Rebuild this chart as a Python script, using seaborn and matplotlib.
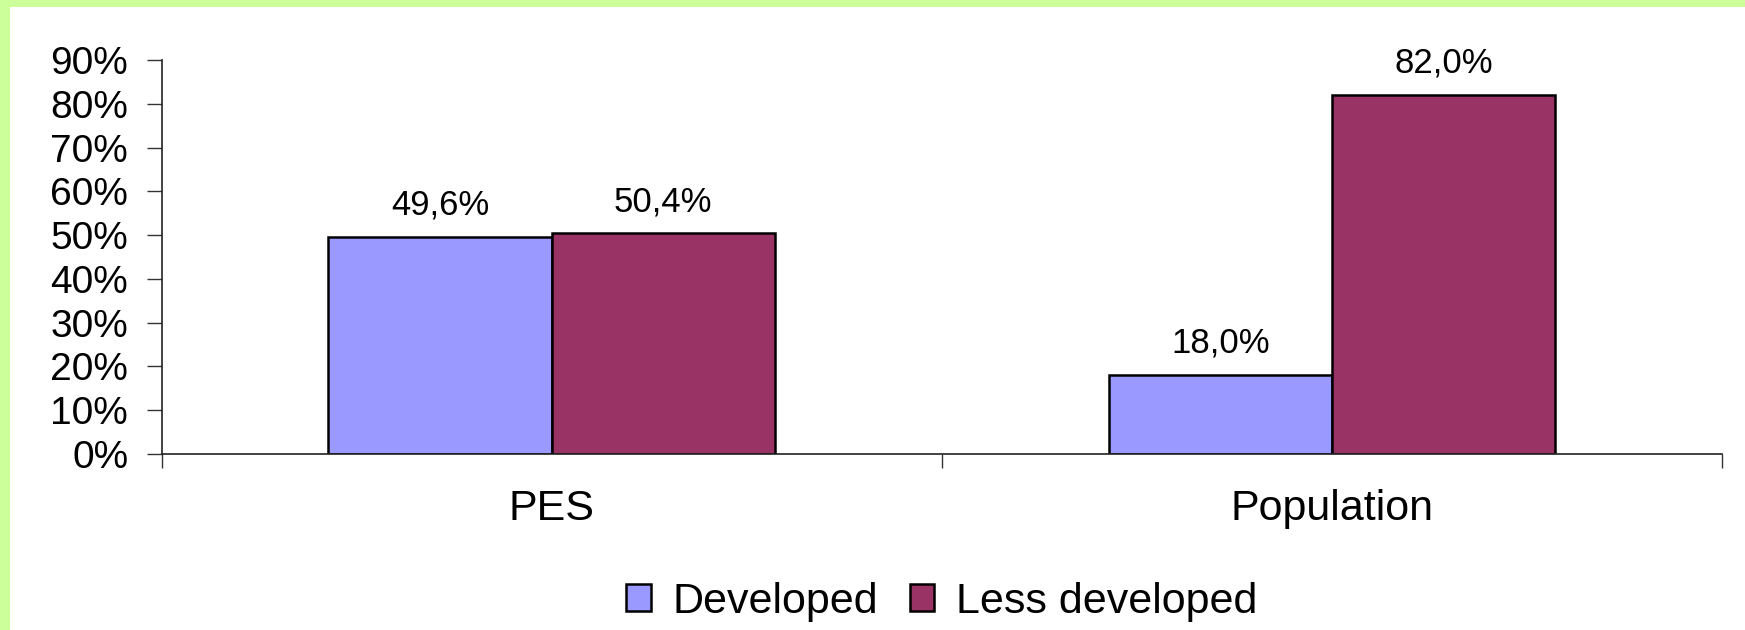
import pandas as pd
import numpy as np
import seaborn as sns
import matplotlib.pyplot as plt
from matplotlib.patches import Rectangle
from matplotlib.ticker import PercentFormatter, FixedLocator

# data
categories = ['PES', 'Population']
groups = ['Developed', 'Less developed']
developed = [0.496, 0.180]
less_developed = [0.504, 0.820]
colors = ['#9999FF', '#993366']

df = pd.DataFrame({
    'category': categories * 2,
    'group': [groups[0]] * 2 + [groups[1]] * 2,
    'share': developed + less_developed,
})

sns.set_theme(style='ticks')
plt.rcParams['font.family'] = ['Liberation Sans', 'DejaVu Sans']

fig = plt.figure(figsize=(17.45, 6.3), dpi=100)
# light green frame on top and left edges
fig.patches.append(Rectangle((0, 1 - 7 / 630), 1, 7 / 630, transform=fig.transFigure,
                             facecolor='#CCFF99', edgecolor='none', zorder=-1))
fig.patches.append(Rectangle((0, 0), 10 / 1745, 1, transform=fig.transFigure,
                             facecolor='#CCFF99', edgecolor='none', zorder=-1))

ax = fig.add_axes([161.5 / 1745, 1 - 454 / 630, (1722 - 161.5) / 1745, 394 / 630])

sns.barplot(data=df, x='category', y='share', hue='group', palette=colors,
            width=0.572, gap=0, edgecolor='black', linewidth=1.8, saturation=1,
            ax=ax)

for cont in ax.containers:
    vals = [b.get_height() for b in cont]
    labels = [f"{v * 100:.1f}%".replace('.', ',') for v in vals]
    ax.bar_label(cont, labels=labels, padding=11, fontsize=25, color='black')

ax.set_ylim(0, 0.9)
ax.set_xlim(-0.5, 1.5)
ax.yaxis.set_major_locator(FixedLocator(np.arange(0, 0.91, 0.1)))
ax.yaxis.set_major_formatter(PercentFormatter(1.0, decimals=0))
ax.tick_params(axis='y', direction='out', length=11, width=1, color='#333333',
               labelsize=28, pad=13, labelcolor='black')

# category boundaries as ticks, names as minor ticks
ax.set_xticks([-0.5, 0.5, 1.5])
ax.set_xticklabels([])
ax.set_xticks([0, 1], minor=True)
ax.set_xticklabels(categories, minor=True)
ax.tick_params(axis='x', which='major', direction='out', length=10, width=1, color='#333333')
ax.tick_params(axis='x', which='minor', length=0, labelsize=31, pad=25, labelcolor='black')

for side in ['top', 'right']:
    ax.spines[side].set_visible(False)
for side in ['left', 'bottom']:
    ax.spines[side].set_color('#222222')
    ax.spines[side].set_linewidth(1.2)

ax.set_xlabel('')
ax.set_ylabel('')
ax.grid(False)

handles, labs = ax.get_legend_handles_labels()
for h in handles:
    h.set_edgecolor('black')
    h.set_linewidth(1.8)
ax.legend(handles, labs, loc='center', bbox_to_anchor=(0.5, -0.375), ncol=2,
          frameon=False, fontsize=31, handlelength=0.56, handleheight=0.56,
          handletextpad=0.5, columnspacing=0.75, borderpad=0, labelcolor='black')

fig.savefig('out.png', dpi=100)
